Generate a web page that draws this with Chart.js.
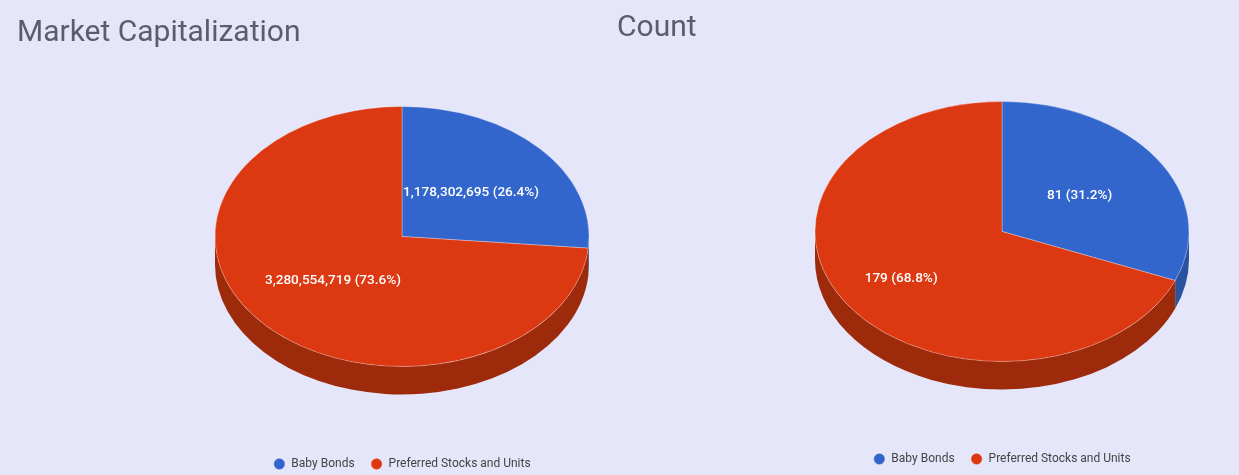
<!DOCTYPE html>
<html>
<head>
<meta charset="utf-8">
<script src="https://cdn.jsdelivr.net/npm/chart.js@4.4.1/dist/chart.umd.min.js"></script>
<style>
  html, body { margin: 0; padding: 0; background: #e6e6fa; overflow: hidden; width: 1239px; height: 475px; }
  .box { position: absolute; width: 800px; height: 480px; }
  #b1 { left: 0; top: 0; }
  #b2 { left: 600px; top: -5px; }
</style>
</head>
<body>
<div class="box" id="b1"><canvas id="c1" width="800" height="480"></canvas></div>
<div class="box" id="b2"><canvas id="c2" width="800" height="480"></canvas></div>
<script>
// ---- data ----
const categories = ['Baby Bonds', 'Preferred Stocks and Units'];
const marketCapValues = [1178302695, 3280554719];
const countValues = [81, 179];
const titles = ['Market Capitalization', 'Count'];

const topColors = ['#3366cc', '#dc3912'];
const sideColors = ['#2a529f', '#9e2a0c'];

Chart.defaults.font.family = 'Roboto, "Noto Sans", sans-serif';

// 3D tilted pie plugin: squashes the pie vertically, draws a side wall, adds labels
const pie3d = {
  id: 'pie3d',
  beforeDatasetsDraw(chart, args, opts) {
    const ctx = chart.ctx;
    const meta = chart.getDatasetMeta(0);
    const arcs = meta.data;
    if (!arcs.length) return;
    const ex = arcs[0].x, ey = arcs[0].y, R = arcs[0].outerRadius;
    const tilt = opts.tilt, depth = opts.depth;
    ctx.save();
    ctx.translate(0, -depth / 2);
    ctx.translate(ex, ey);
    ctx.scale(1, tilt);
    ctx.translate(-ex, -ey);
    const D = depth / tilt;
    // side wall (only lower half visible)
    arcs.forEach((a, i) => {
      const s = Math.max(a.startAngle, 0);
      const e = Math.min(a.endAngle, Math.PI);
      if (e <= s) return;
      ctx.beginPath();
      ctx.arc(ex, ey + D, R, s, e, false);
      ctx.arc(ex, ey, R, e, s, true);
      ctx.closePath();
      ctx.fillStyle = opts.sideColors[i];
      ctx.fill();
    });
  },
  afterDatasetsDraw(chart, args, opts) {
    const ctx = chart.ctx;
    ctx.restore();
    const meta = chart.getDatasetMeta(0);
    const arcs = meta.data;
    if (!arcs.length) return;
    const data = chart.data.datasets[0].data;
    const total = data.reduce((p, c) => p + c, 0);
    const ex = arcs[0].x, ey = arcs[0].y - opts.depth / 2, R = arcs[0].outerRadius;
    ctx.save();
    ctx.fillStyle = '#ffffff';
    ctx.font = '500 13.6px Roboto, "Noto Sans", sans-serif';
    ctx.textAlign = 'center';
    ctx.textBaseline = 'middle';
    arcs.forEach((a, i) => {
      const mid = (a.startAngle + a.endAngle) / 2;
      const f = opts.labelRadius[i];
      const x = ex + f * R * Math.cos(mid);
      const y = ey + f * R * opts.tilt * Math.sin(mid);
      const txt = data[i].toLocaleString('en-US') + ' (' + (data[i] / total * 100).toFixed(1) + '%)';
      ctx.fillText(txt, x, y);
    });
    ctx.restore();
  }
};

function makeChart(id, title, values, labelRadius) {
  return new Chart(document.getElementById(id), {
    type: 'pie',
    data: {
      labels: categories,
      datasets: [{
        data: values,
        backgroundColor: topColors,
        borderColor: 'rgba(255,255,255,0.35)',
        borderWidth: 1,
        radius: 187
      }]
    },
    options: {
      responsive: false,
      animation: false,
      events: [],
      layout: { padding: { left: 17, right: 13, top: 0, bottom: 0 } },
      plugins: {
        title: {
          display: true,
          text: title,
          align: 'start',
          color: '#5c5c70',
          font: { size: 30, weight: 'normal' },
          padding: { top: 15, bottom: 8 }
        },
        legend: {
          position: 'bottom',
          labels: {
            usePointStyle: true,
            pointStyle: 'circle',
            boxWidth: 12,
            boxHeight: 8,
            padding: 16,
            color: '#444444',
            font: { size: 12 }
          }
        },
        tooltip: { enabled: false },
        pie3d: { tilt: 130 / 187, depth: 28, sideColors: sideColors, labelRadius: labelRadius }
      }
    },
    plugins: [pie3d]
  });
}

makeChart('c1', titles[0], marketCapValues, [0.5, 0.5]);
makeChart('c2', titles[1], countValues, [0.5, 0.65]);
</script>
</body>
</html>
